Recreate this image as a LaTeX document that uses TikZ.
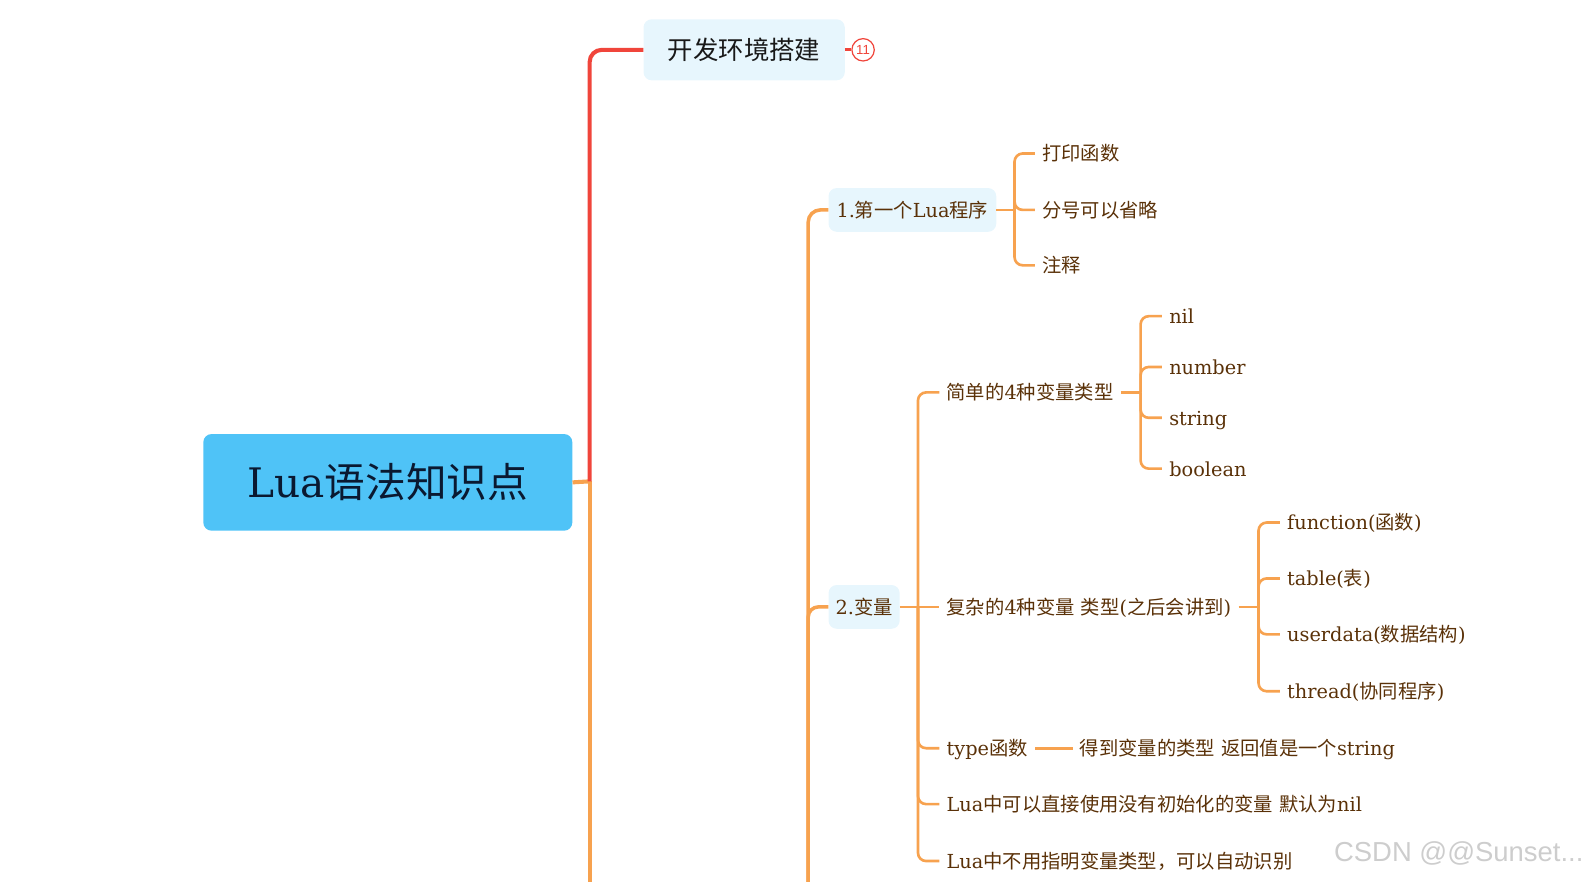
\documentclass[tikz,border=0pt]{standalone}
\usepackage{fontspec}
\setmainfont{DejaVu Serif}
\newfontfamily\zhf{Noto Sans CJK SC}
\newfontfamily\wmf{Liberation Sans}
\newcommand\zh[1]{{\zhf #1}}
\definecolor{lred}{HTML}{F0453B}
\definecolor{lorange}{HTML}{F7A24F}
\definecolor{tbrown}{HTML}{5A3108}
\definecolor{rootblue}{HTML}{4FC3F7}
\definecolor{boxblue}{HTML}{E7F6FD}
\definecolor{roottext}{HTML}{0A1931}
\definecolor{wmgray}{HTML}{CDCDCD}
\begin{document}
\begin{tikzpicture}[x=1pt,y=-1pt,
  rootbox/.style={fill=rootblue, rounded corners=8pt, minimum width=363pt, minimum height=95pt, text=roottext, font=\fontsize{40}{48}\selectfont, inner sep=0pt},
  envbox/.style={fill=boxblue, rounded corners=8pt, minimum width=198pt, minimum height=60pt, text=black!90, font=\fontsize{25}{30}\selectfont, inner sep=0pt},
  subbox/.style={fill=boxblue, rounded corners=8pt, text=tbrown, font=\fontsize{19}{23}\selectfont, minimum height=43pt, inner sep=0pt, text height=17pt, text depth=2.5pt},
  leaf/.style={text=tbrown, font=\fontsize{19}{23}\selectfont, inner xsep=7pt, inner ysep=2pt, anchor=west, text height=17pt, text depth=2.5pt},
  badge/.style={circle, draw=lred, line width=1.2pt, fill=white, minimum size=22pt, inner sep=0pt, text=lred, font=\wmf\fontsize{13}{14}\selectfont},
  wm/.style={text=wmgray, font=\wmf\fontsize{27}{32}\selectfont, inner sep=0pt},
  redl/.style={draw=lred, line width=4pt},
  l1/.style={draw=lorange, line width=4pt},
  l2/.style={draw=lorange, line width=3.5pt},
  l3/.style={draw=lorange, line width=2.6pt},
]
\useasboundingbox (0,0) rectangle (1568,867);

% nodes
\node[rootbox] (root) at (381.5,474.5) {Lua\zh{语法知识点}};
\node[envbox] (env) at (732,49) {\zh{开发环境搭建}};
\node[badge] (bd) at (849,49) {11};

\node[subbox, minimum width=165pt] (n1) at (897.5,206.5) {1.\zh{第一个}Lua\zh{程序}};
\node[subbox, minimum width=70pt] (n2) at (850,597) {2.\zh{变量}};

\node[leaf] (p1) at (1018,151) {\zh{打印函数}};
\node[leaf] (p2) at (1018,206.5) {\zh{分号可以省略}};
\node[leaf] (p3) at (1018,261) {\zh{注释}};

\node[leaf] (v1) at (924,386) {\zh{简单的}4\zh{种变量类型}};
\node[leaf] (v2) at (924,597) {\zh{复杂的}4\zh{种变量} \zh{类型}(\zh{之后会讲到})};
\node[leaf] (v3) at (924,736) {type\zh{函数}};
\node[leaf] (v4) at (924,791) {Lua\zh{中可以直接使用没有初始化的变量} \zh{默认为}nil};
\node[leaf] (v5) at (924,847) {Lua\zh{中不用指明变量类型，可以自动识别}};

\node[leaf] (s1) at (1143,311) {nil};
\node[leaf] (s2) at (1143,361) {number};
\node[leaf] (s3) at (1143,411) {string};
\node[leaf] (s4) at (1143,461) {boolean};

\node[leaf] (c1) at (1259,514) {function(\zh{函数})};
\node[leaf] (c2) at (1259,569) {table(\zh{表})};
\node[leaf] (c3) at (1259,624) {userdata(\zh{数据结构})};
\node[leaf] (c4) at (1259,680) {thread(\zh{协同程序})};

\node[leaf] (d) at (1055,736) {\zh{得到变量的类型} \zh{返回值是一个}string};

\node[wm] (wmark) at (1435,840) {CSDN @@Sunset...};

% junction coordinates
\coordinate (j0) at (580,473.5);
\coordinate (b1) at (580,880);
\coordinate (b2) at (795,880);
\coordinate (j1) at (998,206.5);
\coordinate (j3) at (903,597);
\coordinate (j4) at (1122,386);
\coordinate (j5) at (1238,597);

% level 1
\draw[l1] (root.east) -- (j0);
\draw[l1] (j0) -- (b1);
\draw[redl, rounded corners=12pt] (j0) |- (env.west);
\draw[redl, line width=3pt] (env.east) -- (bd.west);

% level 2
\draw[l2, rounded corners=12pt] (b2) |- (n1.west);
\draw[l2, rounded corners=10pt] (b2) |- (n2.west);

% level 3 from 1.
\draw[l3] (n1.east) -- (j1);
\foreach \c in {p1,p2,p3} \draw[l3, rounded corners=8pt] (j1) |- (\c.west);

% level 3 from 2.
\draw[l3] (n2.east) -- (v2.west);
\foreach \c in {v1,v3,v4,v5} \draw[l3, rounded corners=8pt] (j3) |- (\c.west);

% level 4
\draw[l3] (v1.east) -- (j4);
\foreach \c in {s1,s2,s3,s4} \draw[l3, rounded corners=8pt] (j4) |- (\c.west);
\draw[l3] (v2.east) -- (j5);
\foreach \c in {c1,c2,c3,c4} \draw[l3, rounded corners=8pt] (j5) |- (\c.west);
\draw[l3, line width=3pt] (v3.east) -- (d.west);
\end{tikzpicture}
\end{document}
